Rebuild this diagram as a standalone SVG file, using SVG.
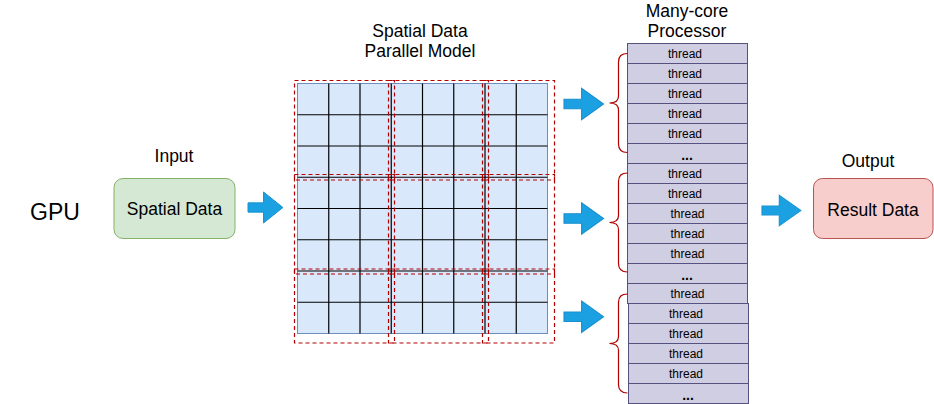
<svg xmlns="http://www.w3.org/2000/svg" width="934" height="404" viewBox="0 0 934 404">
<style>
text{font-family:"Liberation Sans",Arial,sans-serif;fill:#000;text-anchor:middle}
.lbl{font-size:17.5px}
.th{font-size:12px}
.dots{font-size:14px;font-weight:bold}
.row{fill:#d0cee2;stroke:#56517e;stroke-width:1}
.blk{fill:none;stroke:#b20000;stroke-width:1.2;stroke-dasharray:4 3}
.gl{stroke:#000;stroke-width:1.2}
.brace{fill:none;stroke:#b20000;stroke-width:1.2}
.arr{fill:#1ba1e2;stroke:#1a8fd0;stroke-width:1}
</style>
<defs>
<path id="arrowShape" d="M0,-4.8 H16 V-16 L36,0 L16,16 V4.8 H0 Z"/>
<path id="braceShape" d="M9,-49.5 C3,-49.5 0,-47 0,-41 V-7 C0,-2.5 -3,0 -9,0 C-3,0 0,2.5 0,7 V41 C0,47 3,49.5 9,49.5"/>
</defs>

<text x="55" y="220" style="font-size:23px">GPU</text>

<g id="input">
<text class="lbl" x="174" y="162">Input</text>
<rect x="114" y="178.5" width="121" height="60" rx="9" fill="#d5e8d4" stroke="#82b366"/>
<text class="lbl" x="174.5" y="215">Spatial Data</text>
</g>

<g id="grid">
<text class="lbl" x="420" y="36.7">Spatial Data</text>
<text class="lbl" x="420" y="56.7">Parallel Model</text>
<rect x="297.5" y="83.5" width="250" height="250" fill="#dae8fc" stroke="#6c8ebf"/>
<g class="gl">
<line x1="328.75" y1="83.5" x2="328.75" y2="333.5"/>
<line x1="360" y1="83.5" x2="360" y2="333.5"/>
<line x1="391.25" y1="83.5" x2="391.25" y2="333.5"/>
<line x1="422.5" y1="83.5" x2="422.5" y2="333.5"/>
<line x1="453.75" y1="83.5" x2="453.75" y2="333.5"/>
<line x1="485" y1="83.5" x2="485" y2="333.5"/>
<line x1="516.25" y1="83.5" x2="516.25" y2="333.5"/>
<line x1="297.5" y1="114.75" x2="547.5" y2="114.75"/>
<line x1="297.5" y1="146" x2="547.5" y2="146"/>
<line x1="297.5" y1="177.25" x2="547.5" y2="177.25"/>
<line x1="297.5" y1="208.5" x2="547.5" y2="208.5"/>
<line x1="297.5" y1="239.75" x2="547.5" y2="239.75"/>
<line x1="297.5" y1="271" x2="547.5" y2="271"/>
<line x1="297.5" y1="302.25" x2="547.5" y2="302.25"/>
</g>
<g class="blk">
<rect x="294.5" y="80.5" width="100" height="99.5"/>
<rect x="388.5" y="80.5" width="100" height="99.5"/>
<rect x="482.5" y="80.5" width="72" height="99.5"/>
<rect x="294.5" y="174.5" width="100" height="99.5"/>
<rect x="388.5" y="174.5" width="100" height="99.5"/>
<rect x="482.5" y="174.5" width="72" height="99.5"/>
<rect x="294.5" y="269" width="100" height="74"/>
<rect x="388.5" y="269" width="100" height="74"/>
<rect x="482.5" y="269" width="72" height="74"/>
</g>
</g>

<g id="processor">
<text class="lbl" x="687" y="17">Many-core</text>
<text class="lbl" x="687" y="36.5">Processor</text>
<rect class="row" x="627.5" y="43.5" width="120" height="20"/>
<rect class="row" x="627.5" y="63.5" width="120" height="20"/>
<rect class="row" x="627.5" y="83.5" width="120" height="20"/>
<rect class="row" x="627.5" y="103.5" width="120" height="20"/>
<rect class="row" x="627.5" y="123.5" width="120" height="20"/>
<rect class="row" x="627.5" y="143.5" width="120" height="20"/>
<rect class="row" x="627.5" y="163.5" width="120" height="20"/>
<rect class="row" x="627.5" y="183.5" width="120" height="20"/>
<rect class="row" x="627.5" y="203.5" width="120" height="20"/>
<rect class="row" x="627.5" y="223.5" width="120" height="20"/>
<rect class="row" x="627.5" y="243.5" width="120" height="20"/>
<rect class="row" x="627.5" y="263.5" width="120" height="20"/>
<rect class="row" x="627.5" y="283.5" width="120" height="20"/>
<rect class="row" x="628.5" y="303.5" width="120" height="20"/>
<rect class="row" x="628.5" y="323.5" width="120" height="20"/>
<rect class="row" x="628.5" y="343.5" width="120" height="20"/>
<rect class="row" x="628.5" y="363.5" width="120" height="20"/>
<rect class="row" x="628.5" y="383.5" width="120" height="20"/>
<text class="th" x="685" y="57.5">thread</text>
<text class="th" x="685" y="77.5">thread</text>
<text class="th" x="685" y="97.5">thread</text>
<text class="th" x="685" y="117.5">thread</text>
<text class="th" x="685" y="137.5">thread</text>
<text class="dots" x="687" y="160">...</text>
<text class="th" x="685" y="177.5">thread</text>
<text class="th" x="685" y="197.5">thread</text>
<text class="th" x="687.5" y="217.5">thread</text>
<text class="th" x="687.5" y="237.5">thread</text>
<text class="th" x="687.5" y="257.5">thread</text>
<text class="dots" x="687" y="280">...</text>
<text class="th" x="687.5" y="297.5">thread</text>
<text class="th" x="686" y="317.5">thread</text>
<text class="th" x="686" y="337.5">thread</text>
<text class="th" x="686" y="357.5">thread</text>
<text class="th" x="686" y="377.5">thread</text>
<text class="dots" x="688" y="400">...</text>
</g>

<g id="output">
<text class="lbl" x="868" y="166.7">Output</text>
<rect x="813.5" y="178.5" width="119.5" height="60" rx="9" fill="#f8cecc" stroke="#b85450"/>
<text class="lbl" x="873" y="216">Result Data</text>
</g>

<g id="connectors">
<use href="#arrowShape" class="arr" transform="translate(248,207.5) scale(0.97)"/>
<use href="#arrowShape" class="arr" transform="translate(564,104) scale(1.1,0.98)"/>
<use href="#arrowShape" class="arr" transform="translate(564,218.5) scale(1.1,0.98)"/>
<use href="#arrowShape" class="arr" transform="translate(564,316.7) scale(1.1,0.98)"/>
<use href="#arrowShape" class="arr" transform="translate(762,210.5) scale(1.08,0.96)"/>
<use href="#braceShape" class="brace" transform="translate(618.5,103)"/>
<use href="#braceShape" class="brace" transform="translate(618.5,222.5)"/>
<use href="#braceShape" class="brace" transform="translate(618.5,343.5)"/>
</g>
</svg>
